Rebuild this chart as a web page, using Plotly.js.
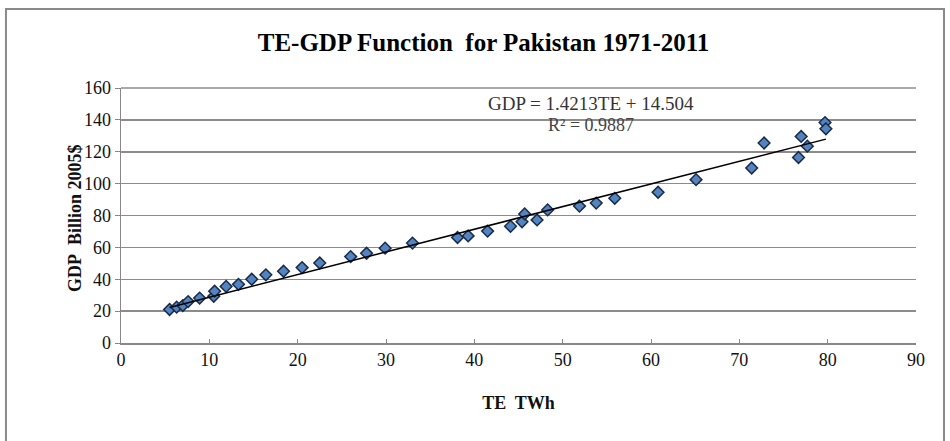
<!DOCTYPE html>
<html>
<head>
<meta charset="utf-8">
<script src="https://cdn.plot.ly/plotly-3.0.1.min.js"></script>
<style>
  html, body { margin: 0; padding: 0; background: #ffffff; }
  #chart { width: 950px; height: 441px; }
</style>
</head>
<body>
<div id="chart"></div>
<script>
// Total electricity (TWh) and GDP (billion 2005$), Pakistan 1971-2011
const teTWh = [5.5, 6.3, 7.0, 7.6, 8.9, 10.5, 10.6, 11.9, 13.3, 14.8,
               16.4, 18.4, 20.5, 22.5, 26.0, 27.8, 29.9, 33.0, 38.1, 39.3,
               41.5, 44.1, 45.4, 45.7, 47.1, 48.3, 51.9, 53.8, 55.9, 60.8,
               65.1, 71.4, 72.8, 76.7, 77.0, 77.7, 79.7, 79.8];
const gdpBn = [21.0, 22.5, 23.5, 26.0, 28.2, 29.3, 32.5, 35.5, 36.8, 40.0,
               42.8, 45.0, 47.3, 50.2, 54.2, 56.3, 59.5, 62.7, 66.2, 67.2,
               70.2, 73.2, 76.1, 81.0, 77.2, 83.5, 85.9, 87.8, 90.8, 94.6,
               102.5, 109.8, 125.5, 116.4, 129.6, 123.5, 138.3, 134.4];

// Linear trendline coefficients, as printed on the chart
const slope = 1.4213;
const intercept = 14.504;
const rSquared = 0.9887;

const xTicks = [0, 10, 20, 30, 40, 50, 60, 70, 80, 90];
const yTicks = [0, 20, 40, 60, 80, 100, 120, 140, 160];

const trendX = [Math.min(...teTWh), Math.max(...teTWh)];
const trendY = trendX.map(v => slope * v + intercept);

const serif = "Liberation Serif";

const traces = [
  {
    x: teTWh, y: gdpBn, type: 'scatter', mode: 'markers',
    marker: { symbol: 'diamond', size: 9, color: '#5284c2',
              line: { color: '#1b2a45', width: 1.5 } },
    hoverinfo: 'x+y', showlegend: false
  },
  {
    x: trendX, y: trendY, type: 'scatter', mode: 'lines',
    line: { color: '#000000', width: 1.5 },
    hoverinfo: 'skip', showlegend: false
  }
];

const layout = {
  width: 950, height: 441,
  margin: { l: 121, r: 34, t: 88, b: 98 },
  paper_bgcolor: '#ffffff', plot_bgcolor: '#ffffff',
  font: { family: serif, color: '#111111', size: 18 },
  title: {
    text: '<b>TE-GDP Function\u00a0 for Pakistan 1971-2011</b>',
    font: { family: serif, size: 25, color: '#000000' },
    xref: 'container', x: 0.509, xanchor: 'center',
    yref: 'container', y: 0.905, yanchor: 'middle'
  },
  xaxis: {
    range: [0, 90], tickvals: xTicks, ticktext: xTicks.map(String),
    showgrid: false, zeroline: false,
    showline: true, linecolor: '#888888', linewidth: 1.5,
    ticks: 'inside', ticklen: 4, tickcolor: '#888888', tickwidth: 1,
    tickfont: { family: serif, size: 18, color: '#111111' },
    title: { text: '<b>TE\u00a0 TWh</b>', font: { family: serif, size: 18, color: '#111111' }, standoff: 27 },
    fixedrange: true
  },
  yaxis: {
    range: [0, 160], tickvals: yTicks, ticktext: yTicks.map(String),
    showgrid: true, gridcolor: '#8c8c8c', gridwidth: 1.5,
    zeroline: false, showline: true, linecolor: '#888888', linewidth: 1.5,
    mirror: false,
    ticks: 'outside', ticklen: 5, tickcolor: '#888888', tickwidth: 1,
    tickfont: { family: serif, size: 18, color: '#111111' },
    fixedrange: true
  },
  shapes: [
    { type: 'rect', xref: 'paper', yref: 'paper',
      x0: -0.1447, x1: 1.0352, y0: -0.45, y1: 1.3098,
      line: { color: '#8a8a8a', width: 2 }, fillcolor: 'rgba(0,0,0,0)', layer: 'below' },
    { type: 'line', xref: 'paper', yref: 'paper', x0: 0, x1: 1, y0: 1, y1: 1,
      line: { color: '#8c8c8c', width: 1.5 } }
  ],
  annotations: [
    { xref: 'paper', yref: 'paper', x: -0.0579, y: 0.49, showarrow: false,
      text: '<b>GDP\u00a0 Billion 2005$</b>', textangle: -90,
      font: { family: serif, size: 18, color: '#111111' }, xanchor: 'center', yanchor: 'middle' },
    { xref: 'x', yref: 'y', x: 53.2, y: 150, showarrow: false,
      text: 'GDP = ' + slope + 'TE + ' + intercept,
      font: { family: serif, size: 19, color: '#333333' }, xanchor: 'center', yanchor: 'middle' },
    { xref: 'x', yref: 'y', x: 53.2, y: 137, showarrow: false,
      text: 'R\u00b2 = ' + rSquared,
      font: { family: serif, size: 18, color: '#444444' }, xanchor: 'center', yanchor: 'middle' }
  ]
};

Plotly.newPlot('chart', traces, layout, { displayModeBar: false, staticPlot: true });
</script>
</body>
</html>
